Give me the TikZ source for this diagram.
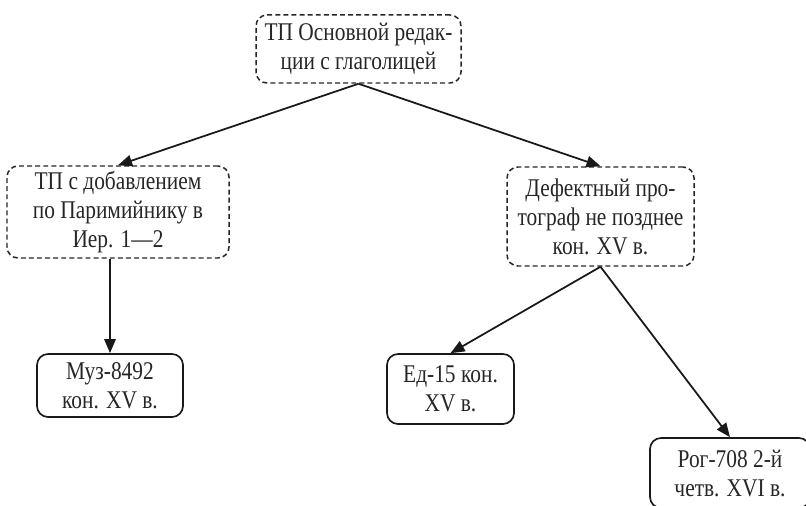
\documentclass[tikz,border=0pt]{standalone}
\usepackage{fontspec}
\setmainfont{Liberation Serif}[FakeStretch=0.84]
\usepackage{tikz}
\usetikzlibrary{arrows.meta}

\begin{document}
\begin{tikzpicture}[
        dashbox/.style={draw=black!85, line width=0.85pt, dash pattern=on 2.8pt off 1.8pt, rounded corners=0.22cm, align=center, inner sep=0pt},
        solidbox/.style={draw=black!90, line width=0.95pt, rounded corners=0.22cm, align=center, inner sep=0pt},
        every node/.style={text=black!85, font=\fontsize{14.5}{16.5}\selectfont},
        link/.style={draw=black!90, line width=1pt, -{Triangle[length=8pt,width=6.5pt]}}
    ]
        
        \useasboundingbox (0,0) rectangle (16.12,10.1);
        
        \node[dashbox, minimum width=4.1cm, minimum height=1.36cm] (osn) at (7.17,9.12) {ТП Основной редак-\\ции с глаголицей};
        \node[dashbox, minimum width=4.44cm, minimum height=1.84cm] (dob) at (2.36,5.86) {ТП с добавлением\\по Паримийнику в\\Иер. 1---2};
        \node[dashbox, minimum width=3.74cm, minimum height=1.98cm] (def) at (12.01,5.77) {Дефектный про-\\тограф не позднее\\кон. XV в.};
        
        \node[solidbox, minimum width=2.92cm, minimum height=1.26cm] (muz) at (2.2,2.39) {Муз-8492\\кон. XV в.};
        \node[solidbox, minimum width=2.54cm, minimum height=1.4cm] (ed) at (9.01,2.32) {Ед-15 кон.\\XV в.};
        \node[solidbox, minimum width=3.2cm, minimum height=1.4cm] (rog) at (14.6,0.64) {Рог-708 2-й\\четв. XVI в.};
        
        \draw[link] (osn.south) -- (dob.north);
        \draw[link] (osn.south) -- (def.north);
        \draw[link] (dob.south -| muz.north) -- (muz.north);
        \draw[link] (def.south) -- (ed.north);
        \draw[link] (def.south) -- (rog.north);
        
        \end{tikzpicture}
\end{document}
